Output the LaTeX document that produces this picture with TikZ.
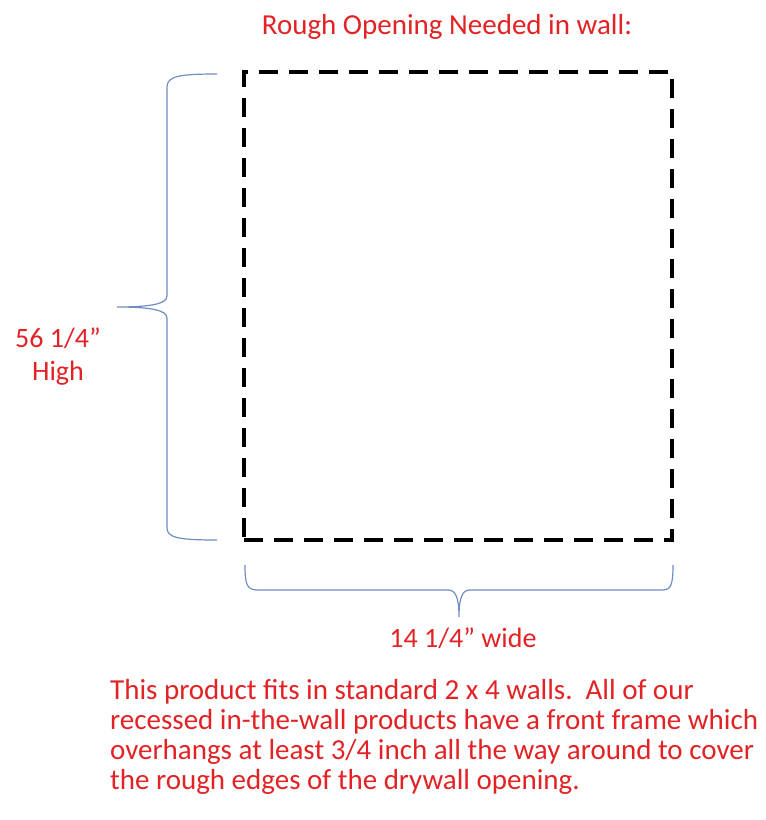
\documentclass[tikz,border=0pt]{standalone}
\usepackage{fontspec}
\setmainfont{Carlito}
\usetikzlibrary{positioning}
\definecolor{redtext}{RGB}{226,34,36}
\definecolor{bracecol}{RGB}{112,142,192}
\tikzstyle{opening} = [rectangle, 
			draw, 
			line width = 4pt, 
			dash pattern = on 19pt off 11pt, 
			inner sep = 0pt, 
			outer sep = 0pt, 
			minimum width = 428pt, 
			minimum height = 468pt]
\tikzstyle{redlabel} = [text = redtext, 
			inner sep = 0pt, 
			font = \fontsize{29}{33}\selectfont]
\tikzstyle{note} = [redlabel, 
			align = left, 
			font = \fontsize{29}{30}\selectfont]
\tikzstyle{brace} = [draw = bracecol, line width = 1.2pt]

\begin{document}
\begin{tikzpicture}[x = 1pt, y = -1pt, node distance = 3em]
	\useasboundingbox (0,0) rectangle (766,820);
	\node [opening] (wall) at (458,306) {};
	\node [redlabel, above=38pt of wall.north, anchor=base, xshift=-11pt] (title) {Rough Opening Needed in wall:};
	\node [redlabel, below=107pt of wall.south, anchor=base, xshift=5pt, font=\fontsize{28}{32}\selectfont] (wide) {14 1/4” wide};
	\node [redlabel, align=center, font=\fontsize{28}{33}\selectfont] (high) at (58,357) {56 1/4”\\High};
	\node [note, anchor=north west] (text) at (110,679) {This product fits in standard 2 x 4 walls.\ \ All of our\\recessed in-the-wall products have a front frame which\\overhangs at least 3/4 inch all the way around to cover\\the rough edges of the drywall opening.};
	% left brace
	\path [brace] (217,74) .. controls (180,74) and (167,76) .. (167,87) -- (167,296)
		.. controls (167,304) and (150,307) .. (117,307)
		.. controls (150,307) and (167,310) .. (167,318) -- (167,528)
		.. controls (167,538) and (180,540) .. (217,540);
	% bottom brace
	\path [brace] (245,565) .. controls (245,585) and (247,590) .. (258,590) -- (448,590)
		.. controls (455,590) and (459,596) .. (459,617)
		.. controls (459,596) and (463,590) .. (470,590) -- (662,590)
		.. controls (671,590) and (673,585) .. (673,565);
\end{tikzpicture}
\end{document}
